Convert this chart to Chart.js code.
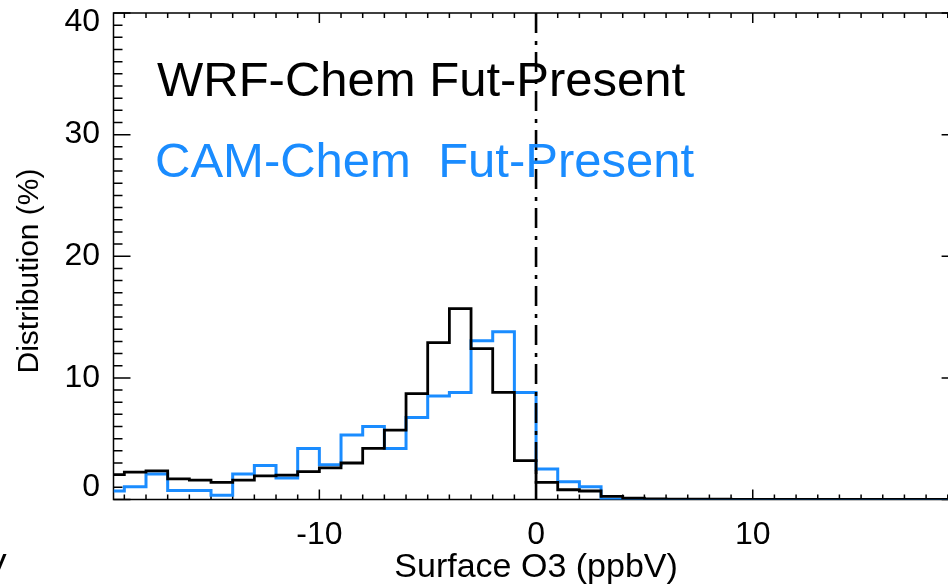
<!DOCTYPE html>
<html>
<head>
<meta charset="utf-8">
<script src="https://cdn.jsdelivr.net/npm/chart.js@4/dist/chart.umd.min.js"></script>
<style>
  html, body { margin: 0; padding: 0; background: #fff; overflow: hidden; width: 948px; height: 587px; }
  canvas { display: block; }
</style>
</head>
<body>
<canvas id="c" width="975" height="587" style="width:975px;height:587px"></canvas>
<script>
// Left edges of the 1 ppbV histogram bins (first and last bins are half bins), plus the closing edge
const binEdges = [-19.5, -19, -18, -17, -16, -15, -14, -13, -12, -11, -10, -9, -8, -7, -6, -5, -4, -3, -2, -1,
                  0, 1, 2, 3, 4, 5, 6, 7, 8, 9, 10, 11, 12, 13, 14, 15, 16, 17, 18, 19, 19.5];

// Distribution (%) of future minus present surface O3 in each bin
const wrfChem = [2.05, 2.25, 2.35, 1.7, 1.6, 1.4, 1.6, 1.95, 2.0, 2.3,
                 2.6, 3.0, 4.2, 5.7, 8.7, 12.9, 15.7, 12.4, 8.8, 3.2,
                 1.4, 0.8, 0.7, 0.25, 0.12, 0.05, 0.03, 0.02, 0.02, 0.01,
                 0.01, 0.01, 0, 0, 0, 0, 0, 0, 0, 0];
const camChem = [0.7, 1.05, 2.1, 0.73, 0.73, 0.35, 2.1, 2.8, 1.77, 4.2,
                 2.85, 5.3, 6.0, 4.2, 6.75, 8.5, 8.8, 13.05, 13.8, 8.8,
                 2.5, 1.45, 1.05, 0.02, 0.01, 0.01, 0, 0, 0, 0,
                 0, 0, 0, 0, 0, 0, 0, 0, 0, 0];

const xTickLabels = [-10, 0, 10];
const yTickLabels = [0, 10, 20, 30, 40];
const seriesNames = ['WRF-Chem Fut-Present', 'CAM-Chem  Fut-Present'];

const FONT = '"Liberation Sans", Arial, Helvetica, sans-serif';
const BLUE = '#1a8cff';

function stepPoints(vals) {
  return binEdges.map((x, i) => ({ x: x, y: vals[Math.min(i, vals.length - 1)] }));
}

// Box frame with inward ticks on all four sides, zero line and text
const idlFrame = {
  id: 'idlFrame',
  beforeDatasetsDraw(chart) {
    const { ctx, chartArea: a, scales: { x, y } } = chart;
    ctx.save();
    ctx.strokeStyle = '#000';
    ctx.lineWidth = 1.5;
    ctx.strokeRect(a.left, a.top, a.right - a.left, a.bottom - a.top);
    ctx.beginPath();
    for (let v = y.min; v <= y.max; v += 1) {
      const py = y.getPixelForValue(v);
      const len = v % 10 === 0 ? 17 : 9;
      ctx.moveTo(a.left, py); ctx.lineTo(a.left + len, py);
      ctx.moveTo(a.right, py); ctx.lineTo(a.right - len, py);
    }
    for (let v = Math.ceil(x.min); v <= x.max; v += 1) {
      const px = x.getPixelForValue(v);
      const len = v % 10 === 0 ? 10 : 5;
      ctx.moveTo(px, a.bottom); ctx.lineTo(px, a.bottom - len);
      ctx.moveTo(px, a.top); ctx.lineTo(px, a.top + len);
    }
    ctx.stroke();
    ctx.restore();
  },
  afterDatasetsDraw(chart) {
    const { ctx, chartArea: a, scales: { x } } = chart;
    const px = x.getPixelForValue(0);
    ctx.save();
    ctx.strokeStyle = '#000';
    ctx.lineWidth = 2.6;
    ctx.setLineDash([20, 8, 4, 7]);
    ctx.beginPath();
    ctx.moveTo(px, a.top);
    ctx.lineTo(px, a.bottom);
    ctx.stroke();
    ctx.restore();
  },
  afterDraw(chart) {
    const { ctx, chartArea: a, scales: { x, y } } = chart;
    ctx.save();
    ctx.fillStyle = '#000';
    ctx.font = '32px ' + FONT;
    // x tick labels
    ctx.textAlign = 'center';
    ctx.textBaseline = 'alphabetic';
    xTickLabels.forEach(v => ctx.fillText(String(v), x.getPixelForValue(v), 544));
    // y tick labels, kept inside the axis span
    ctx.textAlign = 'right';
    ctx.textBaseline = 'middle';
    yTickLabels.forEach(v => {
      const py = Math.min(Math.max(y.getPixelForValue(v), a.top + 9), a.bottom - 12);
      ctx.fillText(String(v), 100, py);
    });
    // axis titles
    ctx.font = '34px ' + FONT;
    ctx.textAlign = 'center';
    ctx.textBaseline = 'alphabetic';
    ctx.fillText('Surface O3 (ppbV)', (a.left + a.right) / 2, 577);
    ctx.textAlign = 'left';
    ctx.fillText('V', -16, 577);
    ctx.save();
    ctx.font = '30px ' + FONT;
    ctx.translate(38, 271);
    ctx.rotate(-Math.PI / 2);
    ctx.textAlign = 'center';
    ctx.fillText('Distribution (%)', 0, 0);
    ctx.restore();
    // series labels
    ctx.font = '49px ' + FONT;
    ctx.textAlign = 'left';
    ctx.fillStyle = '#000';
    ctx.fillText(seriesNames[0], 157, 96);
    ctx.fillStyle = BLUE;
    ctx.fillText(seriesNames[1], 155, 177);
    ctx.restore();
  }
};

new Chart(document.getElementById('c'), {
  type: 'line',
  data: {
    datasets: [
      {
        label: seriesNames[0],
        data: stepPoints(wrfChem),
        borderColor: '#000',
        borderWidth: 2.8,
        stepped: 'before',
        pointRadius: 0,
        fill: false
      },
      {
        label: seriesNames[1],
        data: stepPoints(camChem),
        borderColor: BLUE,
        borderWidth: 3,
        stepped: 'before',
        pointRadius: 0,
        fill: false
      }
    ]
  },
  options: {
    responsive: false,
    animation: false,
    devicePixelRatio: 1,
    layout: { padding: { left: 113.5, right: 16.4, top: 13, bottom: 87.5 } },
    scales: {
      x: { type: 'linear', min: -19.5, max: 19.5, display: false },
      y: { type: 'linear', min: 0, max: 40, display: false }
    },
    plugins: {
      legend: { display: false },
      tooltip: { enabled: false }
    }
  },
  plugins: [idlFrame]
});
</script>
</body>
</html>
